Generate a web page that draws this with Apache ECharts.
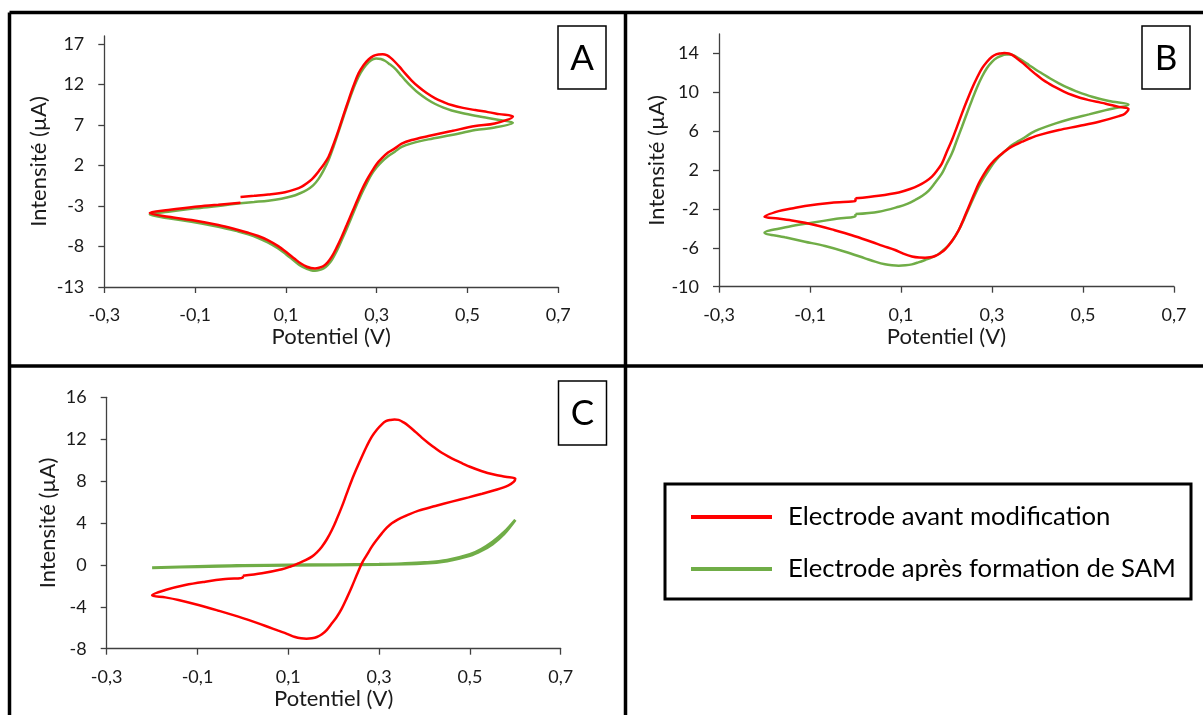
<!DOCTYPE html>
<html>
<head>
<meta charset="utf-8">
<script src="https://cdn.jsdelivr.net/npm/echarts@6/dist/echarts.min.js"></script>
<style>
html,body{margin:0;padding:0;background:#fff;}
#chart{width:1203px;height:715px;}
</style>
</head>
<body>
<div id="chart"></div>
<script>
// ---------- DATA ----------
const xTicks = [-0.3, -0.1, 0.1, 0.3, 0.5, 0.7];
const yTicksA = [-13, -8, -3, 2, 7, 12, 17];
const yTicksB = [-10, -6, -2, 2, 6, 10, 14];
const yTicksC = [-8, -4, 0, 4, 8, 12, 16];
const nameRed = 'Electrode avant modification';
const nameGreen = 'Electrode après formation de SAM';

// Panel A – red (start 0 V → 0.6 V → -0.2 V → 0 V)
const potA_red = [0.0,0.03,0.061,0.098,0.12,0.135,0.147,0.157,0.166,0.175,0.183,0.194,0.205,0.216,0.227,0.238,0.249,0.26,0.271,0.282,0.293,0.304,0.313,0.322,0.331,0.34,0.351,0.3625,0.377,0.392,0.41,0.429,0.447,0.465,0.49,0.517,0.545,0.57,0.6,
  0.56,0.517,0.465,0.414,0.377,0.355,0.34,0.325,0.311,0.3,0.289,0.278,0.267,0.256,0.245,0.234,0.223,0.212,0.201,0.192,0.183,0.173,0.164,0.155,0.146,0.133,0.12,0.1,0.083,0.06,0.039,0.017,-0.005,-0.049,-0.108,-0.159,-0.2,
  -0.159,-0.1,-0.049,0.0];
const curA_red = [-1.88,-1.74,-1.58,-1.3,-0.95,-0.6,-0.15,0.3,0.85,1.5,2.1,3.09,4.65,6.38,8.25,10.09,11.85,13.38,14.4,15.1,15.55,15.72,15.75,15.64,15.3,14.82,14.15,13.38,12.5,11.73,10.95,10.3,9.85,9.47,9.12,8.85,8.6,8.35,8.05,
  7.2,6.88,6.26,5.64,5.15,4.7,4.12,3.6,2.88,2.2,1.24,0.2,-1.02,-2.45,-3.9,-5.35,-6.79,-8.1,-9.26,-9.95,-10.4,-10.62,-10.7,-10.65,-10.5,-10.1,-9.55,-8.65,-7.95,-7.2,-6.7,-6.3,-5.96,-5.35,-4.73,-4.32,-3.85,
  -3.49,-3.08,-2.84,-2.58];
// Panel A – green
const potA_green = [0.0,0.03,0.061,0.09,0.113,0.13,0.146,0.16,0.172,0.183,0.194,0.205,0.216,0.227,0.238,0.249,0.26,0.271,0.282,0.291,0.299,0.309,0.318,0.329,0.34,0.351,0.3625,0.377,0.392,0.41,0.429,0.447,0.465,0.49,0.517,0.545,0.57,0.6,
  0.56,0.517,0.465,0.414,0.377,0.355,0.34,0.325,0.311,0.3,0.289,0.278,0.267,0.256,0.245,0.234,0.223,0.212,0.201,0.192,0.183,0.173,0.164,0.155,0.146,0.133,0.12,0.1,0.083,0.06,0.039,0.017,-0.005,-0.049,-0.108,-0.159,-0.2,
  -0.159,-0.1,-0.049,0.0];
const curA_green = [-2.65,-2.5,-2.34,-2.1,-1.8,-1.45,-1.02,-0.45,0.35,1.4,2.68,4.35,6.18,8.05,9.88,11.55,12.97,14.0,14.74,15.1,15.23,15.15,14.94,14.5,14.0,13.3,12.56,11.72,10.95,10.22,9.6,9.15,8.8,8.45,8.15,7.88,7.62,7.3,
  6.7,6.38,5.77,5.23,4.74,4.3,3.71,3.15,2.47,1.8,0.95,-0.2,-1.44,-2.85,-4.32,-5.8,-7.2,-8.55,-9.67,-10.3,-10.7,-10.92,-10.98,-10.92,-10.75,-10.4,-9.85,-8.95,-8.25,-7.5,-6.95,-6.5,-6.15,-5.55,-4.93,-4.52,-4.05,
  -3.7,-3.29,-3.0,-2.67];

// Panel B – red
const potB_red = [0.0,0.051,0.095,0.12,0.139,0.155,0.168,0.18,0.19,0.2,0.212,0.223,0.234,0.245,0.256,0.267,0.278,0.289,0.3,0.309,0.318,0.327,0.337,0.346,0.355,0.368,0.381,0.395,0.41,0.425,0.44,0.458,0.476,0.495,0.513,0.53,0.55,0.579,0.6,
  0.592,0.579,0.535,0.491,0.447,0.403,0.385,0.366,0.351,0.337,0.326,0.315,0.304,0.293,0.282,0.271,0.26,0.249,0.238,0.227,0.212,0.197,0.186,0.175,0.164,0.153,0.14,0.124,0.105,0.087,0.06,0.036,-0.008,-0.052,-0.08,-0.111,-0.14,-0.17,-0.2,
  -0.169,-0.14,-0.111,-0.052,0.0,0.0];
const curB_red = [-0.91,-0.64,-0.3,0.05,0.42,0.85,1.32,2.0,2.69,3.8,5.09,6.45,7.83,9.15,10.4,11.5,12.46,13.15,13.66,13.9,14.0,14.05,14.0,13.8,13.49,13.0,12.46,11.9,11.35,10.9,10.5,10.08,9.72,9.42,9.2,9.02,8.83,8.5,8.3,
  7.8,7.55,6.97,6.53,6.12,5.6,5.3,4.92,4.6,4.23,3.85,3.44,2.95,2.34,1.55,0.63,-0.55,-1.77,-3.0,-4.17,-5.3,-6.16,-6.55,-6.84,-6.97,-7.01,-7.0,-6.9,-6.6,-6.22,-5.8,-5.4,-4.7,-4.1,-3.75,-3.42,-3.18,-2.98,-2.8,
  -2.22,-1.95,-1.7,-1.36,-1.15,-0.91];
// Panel B – green
const potB_green = [0.0,0.051,0.095,0.115,0.131,0.147,0.161,0.175,0.19,0.2,0.212,0.223,0.234,0.245,0.256,0.267,0.278,0.289,0.3,0.311,0.322,0.331,0.34,0.35,0.359,0.37,0.381,0.395,0.41,0.428,0.447,0.465,0.484,0.52,0.557,0.6,
  0.55,0.513,0.476,0.44,0.403,0.388,0.374,0.359,0.344,0.33,0.315,0.304,0.293,0.282,0.271,0.26,0.249,0.238,0.227,0.216,0.205,0.194,0.183,0.168,0.153,0.138,0.124,0.11,0.095,0.08,0.065,0.043,0.021,-0.023,-0.067,-0.111,-0.155,-0.2,
  -0.147,-0.096,-0.045,0.0,0.0];
const curB_green = [-2.53,-2.28,-1.77,-1.45,-1.08,-0.65,-0.12,0.7,1.66,2.6,3.72,5.1,6.46,7.85,9.2,10.5,11.6,12.5,13.14,13.55,13.79,13.88,13.9,13.75,13.49,13.17,12.82,12.37,11.94,11.42,10.93,10.5,10.13,9.54,9.1,8.75,
  8.17,7.73,7.31,6.8,6.18,5.85,5.43,5.0,4.57,4.0,3.37,2.75,2.0,1.2,0.29,-0.8,-1.94,-3.1,-4.17,-5.05,-5.71,-6.2,-6.64,-6.98,-7.25,-7.5,-7.7,-7.8,-7.84,-7.8,-7.7,-7.42,-7.08,-6.4,-5.82,-5.37,-4.92,-4.44,
  -3.83,-3.42,-3.04,-2.73,-2.53];

// Panel C – red
const potC_red = [0.0,0.042,0.086,0.105,0.122,0.138,0.152,0.163,0.174,0.185,0.196,0.207,0.218,0.229,0.24,0.251,0.262,0.273,0.284,0.295,0.306,0.315,0.325,0.334,0.343,0.354,0.365,0.38,0.394,0.409,0.424,0.438,0.453,0.468,0.483,0.5,0.525,0.553,0.578,0.6,
  0.597,0.585,0.56,0.527,0.497,0.46,0.424,0.387,0.358,0.342,0.328,0.317,0.306,0.295,0.284,0.273,0.262,0.251,0.24,0.229,0.218,0.207,0.196,0.185,0.174,0.163,0.152,0.14,0.128,0.115,0.097,0.078,0.056,0.034,0.012,-0.01,-0.054,-0.098,-0.142,-0.171,-0.2,
  -0.171,-0.127,-0.083,-0.039,0.0,0.0];
const curC_red = [-1.03,-0.8,-0.42,-0.15,0.15,0.45,0.79,1.2,1.74,2.45,3.33,4.4,5.56,6.85,8.11,9.25,10.33,11.35,12.24,12.9,13.42,13.72,13.84,13.88,13.84,13.6,13.26,12.7,12.15,11.62,11.13,10.7,10.33,10.0,9.7,9.37,8.97,8.63,8.42,8.24,
  7.95,7.6,7.2,6.8,6.45,6.04,5.62,5.18,4.67,4.35,3.97,3.55,3.01,2.4,1.74,0.95,0.15,-0.95,-2.08,-3.15,-4.15,-4.95,-5.58,-6.2,-6.62,-6.88,-7.0,-7.04,-7.0,-6.88,-6.58,-6.28,-5.93,-5.58,-5.25,-4.94,-4.37,-3.83,-3.35,-3.1,-2.9,
  -2.4,-1.92,-1.6,-1.35,-1.22,-1.03];
// Panel C – green
const potC_green = [0.0,0.1,0.2,0.3,0.35,0.4,0.45,0.5,0.525,0.55,0.575,0.6,
  0.575,0.55,0.525,0.5,0.45,0.4,0.3,0.1,-0.1,-0.2,
  -0.1,0.0];
const curC_green = [-0.06,-0.01,0.02,0.07,0.12,0.22,0.45,1.0,1.5,2.2,3.1,4.3,
  2.95,2.0,1.35,0.88,0.38,0.15,0.03,-0.03,-0.17,-0.27,
  -0.15,-0.06];

// ---------- CHART ----------
const FONT = 'Lato';
const TXT = '#1a1a1a';
const AX = '#404040';
const RED = '#ff0000';
const GREEN = '#70ad47';

function pairs(xs, ys) { return xs.map((x, i) => [x, ys[i]]); }
function fmt(v) { return (Math.round(v * 10) / 10).toFixed(1).replace('.', ','); }

function xAxis(g) {
  return {
    gridIndex: g, type: 'value', min: -0.3, max: 0.7,
    axisLine: { show: true, onZero: false, lineStyle: { color: AX, width: 1.3 } },
    axisTick: { show: true, length: 6, customValues: xTicks, lineStyle: { color: AX, width: 1.3 } },
    axisLabel: { customValues: xTicks, formatter: fmt, margin: 19, fontSize: 18, fontFamily: FONT, color: TXT },
    splitLine: { show: false },
    name: 'Potentiel (V)', nameLocation: 'middle', nameGap: 39,
    nameTextStyle: { fontSize: 22, fontFamily: FONT, color: TXT }
  };
}
function yAxis(g, min, max, ticks, gap) {
  return {
    gridIndex: g, type: 'value', min: min, max: max,
    axisLine: { show: true, onZero: false, lineStyle: { color: AX, width: 1.3 } },
    axisTick: { show: true, length: 6, customValues: ticks, lineStyle: { color: AX, width: 1.3 } },
    axisLabel: { customValues: ticks, margin: 20, fontSize: 18, fontFamily: FONT, color: TXT },
    splitLine: { show: false },
    name: 'Intensité (µA)', nameLocation: 'middle', nameGap: gap,
    nameTextStyle: { fontSize: 22, fontFamily: FONT, color: TXT }
  };
}
function series(name, color, g, xs, ys, w) {
  return {
    name: name, type: 'line', xAxisIndex: g, yAxisIndex: g,
    data: pairs(xs, ys), showSymbol: false, symbol: 'none', smooth: 0.35,
    lineStyle: { color: color, width: w || 2.5 }, itemStyle: { color: color },
    z: color === RED ? 3 : 2
  };
}
function letterBox(x, y, w, h, letter) {
  return {
    type: 'group', children: [
      { type: 'rect', shape: { x: x, y: y, width: w, height: h }, style: { fill: '#fff', stroke: '#000', lineWidth: 1.5 } },
      { type: 'text', x: x + w / 2, y: y + h / 2 + 1, style: { text: letter, fontSize: 35, fontFamily: FONT, fill: '#000', align: 'center', verticalAlign: 'middle' } }
    ]
  };
}
function frameLine(x1, y1, x2, y2) {
  return { type: 'line', shape: { x1: x1, y1: y1, x2: x2, y2: y2 }, style: { stroke: '#000', lineWidth: 3.5 }, z: 100 };
}

const chart = echarts.init(document.getElementById('chart'), null, { renderer: 'canvas' });
chart.setOption({
  animation: false,
  backgroundColor: '#fff',
  grid: [
    { left: 104.3, top: 36, width: 454, height: 251 },
    { left: 719, top: 34, width: 455, height: 252.7 },
    { left: 106.7, top: 397.3, width: 454, height: 251.4 }
  ],
  xAxis: [xAxis(0), xAxis(1), xAxis(2)],
  yAxis: [
    yAxis(0, -13, 18, yTicksA, 54),
    yAxis(1, -10, 16, yTicksB, 49),
    yAxis(2, -8, 16, yTicksC, 48)
  ],
  legend: {
    data: [nameRed, nameGreen],
    orient: 'vertical', left: 691, top: 504, padding: 0,
    icon: 'rect', itemWidth: 81, itemHeight: 4, itemGap: 26,
    textStyle: { fontSize: 25.7, fontFamily: FONT, color: '#000', padding: [0, 0, 0, 11] },
    selectedMode: false
  },
  series: [
    series(nameGreen, GREEN, 0, potA_green, curA_green),
    series(nameRed, RED, 0, potA_red, curA_red),
    series(nameGreen, GREEN, 1, potB_green, curB_green),
    series(nameRed, RED, 1, potB_red, curB_red),
    series(nameRed, RED, 2, potC_red, curC_red),
    series(nameGreen, GREEN, 2, potC_green, curC_green, 3)
  ],
  graphic: [
    frameLine(9.5, 12.5, 1203, 12.5),
    frameLine(9.5, 12.5, 9.5, 715),
    frameLine(625.5, 12.5, 625.5, 715),
    frameLine(9.5, 366, 1203, 366),
    letterBox(558, 26, 48, 63, 'A'),
    letterBox(1142, 26, 48, 63, 'B'),
    letterBox(558.5, 381, 48, 64, 'C'),
    { type: 'rect', shape: { x: 665, y: 484, width: 526, height: 115 }, style: { fill: 'none', stroke: '#000', lineWidth: 3 } }
  ]
});
</script>
</body>
</html>
